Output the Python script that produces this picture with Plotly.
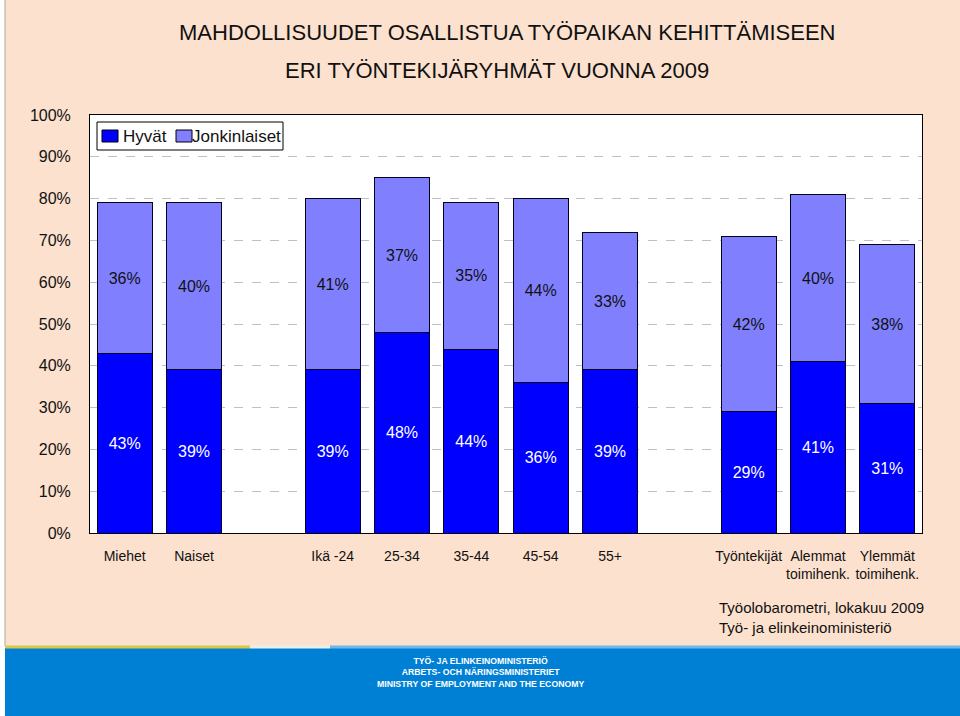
import plotly.graph_objects as go

# ---- data ----
categories = ["Miehet", "Naiset", " ", "Ikä -24", "25-34", "35-44", "45-54", "55+", "  ",
              "Työntekijät", "Alemmat<br>toimihenk.", "Ylemmät<br>toimihenk."]
bar_categories = ["Miehet", "Naiset", "Ikä -24", "25-34", "35-44", "45-54", "55+",
                  "Työntekijät", "Alemmat<br>toimihenk.", "Ylemmät<br>toimihenk."]
hyvat = [43, 39, 39, 48, 44, 36, 39, 29, 41, 31]
jonkinlaiset = [36, 40, 41, 37, 35, 44, 33, 42, 40, 38]
series_names = ["Hyvät", "Jonkinlaiset"]
series_colors = ["#0000FF", "#8080FF"]
y_ticks = [0, 10, 20, 30, 40, 50, 60, 70, 80, 90, 100]
y_ticklabels = [f"{v}%" for v in y_ticks]

title_line1 = "MAHDOLLISUUDET OSALLISTUA TYÖPAIKAN KEHITTÄMISEEN"
title_line2 = "ERI TYÖNTEKIJÄRYHMÄT VUONNA 2009"
source_lines = ["Työolobarometri, lokakuu 2009", "Työ- ja elinkeinoministeriö"]
logo_lines = ["TYÖ- JA ELINKEINOMINISTERIÖ", "ARBETS- OCH NÄRINGSMINISTERIET",
              "MINISTRY OF EMPLOYMENT AND THE ECONOMY"]

FONT = "Liberation Sans, Arial, sans-serif"
W, H = 960, 716
ML, MR, MT, MB = 90, 38, 115, 183
PW, PH = W - ML - MR, H - MT - MB


def px_x(px):
    return (px - ML) / PW


def px_y(py):
    return (H - MB - py) / PH


fig = go.Figure()
fig.add_trace(go.Bar(
    x=bar_categories, y=hyvat, name=series_names[0],
    text=[f"{v}%" for v in hyvat],
    marker=dict(color=series_colors[0], line=dict(color="#000022", width=1)),
    textposition="inside", insidetextanchor="middle",
    textfont=dict(color="white", size=16, family=FONT), width=0.79,
))
fig.add_trace(go.Bar(
    x=bar_categories, y=jonkinlaiset, name=series_names[1],
    text=[f"{v}%" for v in jonkinlaiset],
    marker=dict(color=series_colors[1], line=dict(color="#000022", width=1)),
    textposition="inside", insidetextanchor="middle",
    textfont=dict(color="#111111", size=16, family=FONT), width=0.79,
))

shapes = [
    # white strip on far left
    dict(type="rect", xref="paper", yref="paper", x0=px_x(0), x1=px_x(5), y0=px_y(716), y1=px_y(0),
         fillcolor="white", line=dict(width=0), layer="below"),
    dict(type="line", xref="paper", yref="paper", x0=px_x(5), x1=px_x(5), y0=px_y(646), y1=px_y(0),
         line=dict(color="#B0A8A0", width=1), layer="below"),
    # blue banner
    dict(type="rect", xref="paper", yref="paper", x0=px_x(5), x1=px_x(960), y0=px_y(716), y1=px_y(648),
         fillcolor="#0080D4", line=dict(width=0), layer="below"),
    dict(type="line", xref="paper", yref="paper", x0=px_x(5), x1=px_x(250), y0=px_y(647), y1=px_y(647),
         line=dict(color="#D8C848", width=3), layer="below"),
    dict(type="line", xref="paper", yref="paper", x0=px_x(250), x1=px_x(330), y0=px_y(647), y1=px_y(647),
         line=dict(color="#E8F0E8", width=3), layer="below"),
    dict(type="line", xref="paper", yref="paper", x0=px_x(330), x1=px_x(960), y0=px_y(647), y1=px_y(647),
         line=dict(color="#70B8E8", width=3), layer="below"),
    # legend box
    dict(type="rect", xref="paper", yref="paper", x0=px_x(97), x1=px_x(283), y0=px_y(150), y1=px_y(122),
         fillcolor="white", line=dict(color="black", width=1), layer="above"),
]

annotations = [
    dict(text=title_line1, x=px_x(507), y=px_y(33), xref="paper", yref="paper",
         xanchor="center", yanchor="middle",
         showarrow=False, font=dict(size=22, color="#111111", family=FONT)),
    dict(text=title_line2, x=px_x(497), y=px_y(71), xref="paper", yref="paper",
         xanchor="center", yanchor="middle",
         showarrow=False, font=dict(size=22, color="#111111", family=FONT)),
    dict(text="<br>".join(source_lines), x=px_x(717), y=px_y(597), xref="paper", yref="paper",
         xanchor="left", yanchor="top", align="left", showarrow=False,
         font=dict(size=15, color="#111111", family=FONT)),
    dict(text="<br>".join(f"<b>{s}</b>" for s in logo_lines), x=px_x(480), y=px_y(654),
         xref="paper", yref="paper", xanchor="center", yanchor="top", align="center",
         showarrow=False, font=dict(size=8.7, color="white", family=FONT)),
]

# manual legend entries (swatch + label)
legend_swatch_x = [102, 176]
legend_text_x = [121, 190]
for name, color, sx, tx in zip(series_names, series_colors, legend_swatch_x, legend_text_x):
    shapes.append(dict(type="rect", xref="paper", yref="paper",
                       x0=px_x(sx), x1=px_x(sx + 16), y0=px_y(142), y1=px_y(130),
                       fillcolor=color, line=dict(color="black", width=1), layer="above"))
    annotations.append(dict(text=name, x=px_x(tx), y=px_y(136), xref="paper", yref="paper",
                            xanchor="left", yanchor="middle", showarrow=False,
                            font=dict(size=17, color="#111111", family=FONT)))

fig.update_layout(
    width=W, height=H,
    margin=dict(l=ML, r=MR, t=MT, b=MB, pad=0),
    barmode="stack", bargap=0.21,
    paper_bgcolor="#FCE1CE", plot_bgcolor="white",
    font=dict(family=FONT, color="#111111"),
    showlegend=False,
    xaxis=dict(type="category", categoryorder="array", categoryarray=categories,
               tickvals=categories, ticktext=categories,
               range=[-0.5, len(categories) - 0.5],
               showline=True, mirror=True, linecolor="black", linewidth=1,
               tickfont=dict(size=14, family=FONT, color="#111111"), ticks="",
               ticklabelstandoff=10),
    yaxis=dict(range=[0, 100], tickvals=y_ticks, ticktext=y_ticklabels,
               showgrid=True, gridcolor="#C0C0C0", griddash="dash", gridwidth=1,
               showline=True, mirror=True, linecolor="black", linewidth=1,
               tickfont=dict(size=16, family=FONT, color="#111111"), ticks="",
               ticklabelstandoff=15, zeroline=False),
    shapes=shapes,
    annotations=annotations,
)

fig.write_html("out.html", config={"displayModeBar": False},
               post_script="document.body.style.margin='0';document.body.style.overflow='hidden';")
